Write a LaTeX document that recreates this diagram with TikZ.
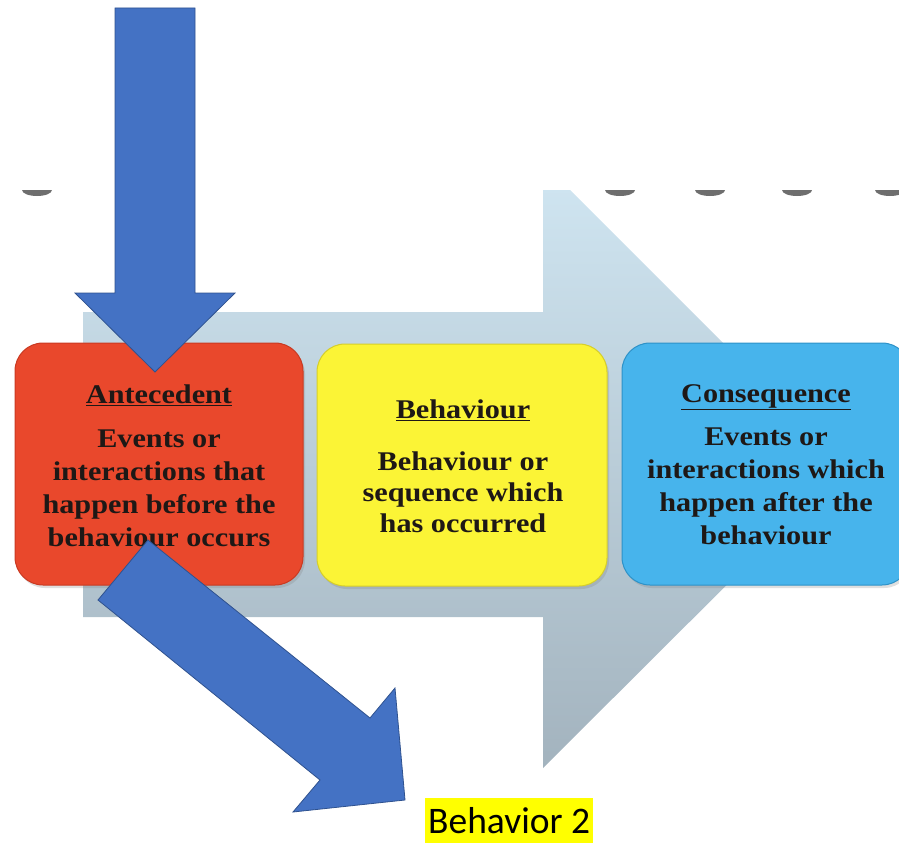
\documentclass[tikz,border=0pt]{standalone}
\usepackage{fontspec}
\newfontfamily\boxfont[FakeStretch=1.12]{Liberation Serif}
\newfontfamily\labelfont{Carlito}
\usetikzlibrary{shadows}
\definecolor{arrowblue}{HTML}{4472C4}
\definecolor{arrowline}{HTML}{2F528F}
\definecolor{bgtop}{HTML}{D0E6F2}
\definecolor{bgbot}{HTML}{A3B3BE}
\definecolor{dotgrey}{HTML}{6E6E6E}
\definecolor{boxred}{HTML}{E9482C}
\definecolor{boxredline}{HTML}{C93A22}
\definecolor{boxyellow}{HTML}{FBF436}
\definecolor{boxyellowline}{HTML}{D6CE2A}
\definecolor{boxblue}{HTML}{47B4EC}
\definecolor{boxblueline}{HTML}{2E92C8}
\definecolor{textdark}{HTML}{1E1816}
\definecolor{hl}{HTML}{FFFF00}
\tikzset{
  abox/.style={rounded corners=28pt, minimum width=288pt, minimum height=242pt, inner sep=0pt, line width=1pt,
    drop shadow={opacity=0.25, shadow xshift=2pt, shadow yshift=-3pt}},
  btext/.style={font=\boxfont\bfseries\fontsize{27}{33}\selectfont, align=center, inner sep=0pt, text=textdark},
  btextb/.style={font=\boxfont\bfseries\fontsize{27}{31}\selectfont, align=center, inner sep=0pt, text=textdark},
  blockarrow/.style={fill=arrowblue, draw=arrowline, line width=0.8pt, line join=miter}
}
\begin{document}
\begin{tikzpicture}[x=1pt,y=-1pt]
\useasboundingbox (0,0) rectangle (899,843);
% background big arrow
\begin{scope}
  \clip (0,190) rectangle (899,843);
  \shade[top color=bgtop, bottom color=bgbot] (83,312) -- (543,312) -- (543,163) -- (846,466) -- (543,768) -- (543,617) -- (83,617) -- cycle;
  \foreach \x in {37,620,710,797,890}
    \fill[dotgrey] (\x,190) ellipse [x radius=15, y radius=6];
\end{scope}
% boxes
\node[abox, fill=boxred, draw=boxredline] (ant) at (159,464) {};
\node[abox, fill=boxyellow, draw=boxyellowline, minimum width=290pt] (beh) at (462,465) {};
\node[abox, fill=boxblue, draw=boxblueline] (con) at (766,464) {};
% texts
\node[btext, anchor=north] (antx) at (159,385) {\underline{Antecedent}\\[11pt]Events or\\interactions that\\happen before the\\behaviour occurs};
\node[btextb, anchor=north] (behx) at (463,400) {\underline{Behaviour}\\[21pt]Behaviour or\\sequence which\\has occurred};
\node[btext, anchor=north] (conx) at (766,384) {\underline{Consequence}\\[10pt]Events or\\interactions which\\happen after the\\behaviour};
% down arrow
\draw[blockarrow] (115,8) -- (195,8) -- (195,293) -- (235,293) -- (155,372) -- (75,293) -- (115,293) -- cycle;
% diagonal arrow
\draw[blockarrow] (148,540) -- (370,718) -- (395,688) -- (405,800) -- (293,812) -- (320,780) -- (98,600) -- cycle;
% label
\node[fill=hl, inner sep=0pt, minimum width=168pt, minimum height=45pt, anchor=north west, font=\labelfont\fontsize{37.5}{40}\selectfont] (b2) at (425,798) {Behavior 2};
\end{tikzpicture}
\end{document}
